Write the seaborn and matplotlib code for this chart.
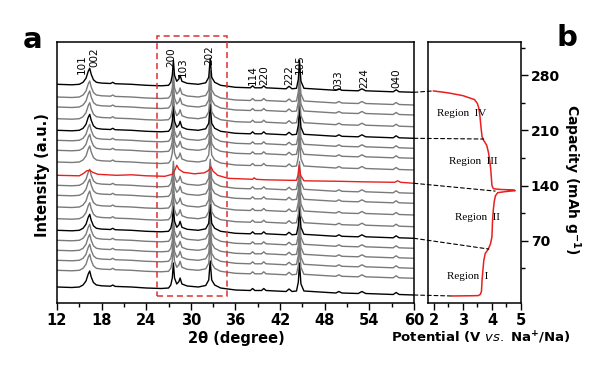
import pandas as pd
import seaborn as sns
import matplotlib.pyplot as plt
from matplotlib.patches import Rectangle, ConnectionPatch
from matplotlib.ticker import MultipleLocator

# XRD key points for the black / gray scans (2theta, intensity above the 12 deg level)
theta_gray = [12.0, 14.0, 15.0, 15.5, 15.9, 16.2, 16.4, 16.6, 16.9, 17.3, 18.0, 19.2, 19.5, 19.8,
              22.0, 24.0, 26.0, 27.0, 27.3, 27.5, 27.65, 27.8, 28.1, 28.4, 28.55, 28.8, 29.5,
              31.0, 32.0, 32.4, 32.6, 32.8, 33.2, 34.0, 36.0, 38.0, 38.3, 38.6, 39.5, 39.8, 40.1,
              42.8, 43.2, 43.6, 44.2, 44.45, 44.6, 44.8, 45.2, 49.5, 49.9, 50.3, 52.5, 53.0, 53.5,
              57.2, 57.6, 58.0, 60.0]
int_gray = [0, -0.5, 0, 2, 6, 13, 16, 10, 4.5, 2, 1.2, 0.8, 2, 0.6,
            0, -1, -1.5, -1, 2, 9, 24, 9, 3, 5.5, 9, 3, 1,
            0, 1.5, 7, 26, 7, 2, -1, -3, -3.5, -1.5, -3.5, -3.5, -1.5, -3.5,
            -4.5, -2, -4.5, -4, 5, 24, 3, -4, -6, -4.5, -6, -6.5, -4.5, -6.5,
            -7.5, -5.5, -7.5, -8]

# XRD key points for the red scan
theta_red = [12.0, 15.0, 15.6, 16.0, 16.4, 16.8, 17.5, 20.0, 22.0, 24.0, 26.5, 27.5, 27.9, 28.1,
             28.4, 29.0, 30.5, 31.8, 32.4, 32.7, 33.0, 33.6, 35.0, 38.3, 38.5, 38.8, 40.0, 43.3,
             44.2, 44.4, 44.55, 44.75, 45.2, 50.0, 53.0, 57.4, 57.8, 58.2, 60.0]
int_red = [0, -0.5, 2, 4.5, 5, 3, 1, 0, 0.5, -0.5, -1, 1, 6, 10,
           6, 3, 1.5, 2.5, 5, 8.5, 4, 0, -3, -4, -2.5, -4, -4.5, -5,
           -5, 0, 10, 0, -5.5, -6, -6.5, -7, -5.5, -7, -8]

# vertical offset of each scan, bottom to top
offsets = [16, 32.7, 42.7, 52.7, 62.7, 72.7, 84.3, 96, 107.7, 117.7, 127.7,
           141, 152.7, 162.7, 172.7, 184.3, 196, 206, 218.7]
kinds = ['k', 'g', 'g', 'g', 'g', 'k', 'g', 'g', 'g', 'g', 'r',
         'g', 'g', 'g', 'k', 'g', 'g', 'g', 'k']

# Miller indices above the top scan
hkl = ['101', '002', '200', '103', '202', '114', '220', '222', '105', '033', '224', '040']
hkl_theta = [15.4, 17.0, 27.4, 28.9, 32.5, 38.3, 39.8, 43.2, 44.7, 49.8, 53.3, 57.6]
hkl_y = [229, 236, 236, 226, 238, 218, 218, 218, 229, 213, 215, 215]

# charge curve: potential (V) vs capacity (mAh/g)
volt = [2.62, 3.3, 3.53, 3.6, 3.64, 3.66, 3.69, 3.72, 3.77, 3.85, 3.88, 3.95, 4.0, 4.02,
        4.05, 4.08, 4.12, 4.2, 4.5, 4.8, 4.75, 4.3, 4.05, 4.0, 3.98, 3.96, 3.93, 3.88,
        3.82, 3.72, 3.66, 3.62, 3.59, 3.55, 3.5, 3.4, 3.0, 2.5, 1.98]
cap = [0, 0.3, 0.5, 2, 6, 20, 33, 45, 54, 58, 60, 66, 75, 95,
       110, 120, 127, 131, 132.5, 133.5, 134.5, 135, 136, 140, 150, 160, 170, 182,
       191, 197, 202, 215, 227, 238, 244, 249, 254, 257.5, 260]

# scans linked to points on the curve
link_scan = [0, 5, 10, 14, 18]
link_volt = [2.62, 3.89, 4.11, 3.71, 1.98]
link_cap = [0, 59.5, 133, 199, 260]

regions = ['Region  I', 'Region  II', 'Region  III', 'Region  IV']
region_volt = [3.15, 3.5, 3.35, 2.95]
region_cap = [25, 100, 170, 231]

sns.set_style('ticks')
plt.rcParams['font.family'] = ['DejaVu Sans']
plt.rcParams['text.color'] = 'black'
plt.rcParams['xtick.color'] = 'black'
plt.rcParams['ytick.color'] = 'black'
plt.rcParams['xtick.direction'] = 'out'
plt.rcParams['ytick.direction'] = 'out'

rows = []
for i, (off, k) in enumerate(zip(offsets, kinds)):
    th, it = (theta_red, int_red) if k == 'r' else (theta_gray, int_gray)
    for t, v in zip(th, it):
        rows.append({'theta': t, 'intensity': off + v, 'scan': i})
df = pd.DataFrame(rows)
color_map = {'k': '#000000', 'g': '#7a7a7a', 'r': '#e8201e'}
palette = [color_map[k] for k in kinds]

fig = plt.figure(figsize=(6, 3.66), dpi=100)
ax1 = fig.add_axes([57 / 600, 63 / 366, 357 / 600, 261 / 366])
ax2 = fig.add_axes([428 / 600, 63 / 366, 93 / 600, 261 / 366])

sns.lineplot(data=df, x='theta', y='intensity', hue='scan', palette=palette,
             estimator=None, sort=False, legend=False, linewidth=1.0, ax=ax1)
ax1.set_xlim(12, 60)
ax1.set_ylim(0, 261)
ax1.set_xticks(range(12, 61, 6))
ax1.xaxis.set_minor_locator(MultipleLocator(3))
ax1.set_yticks([])
ax1.set_xlabel('')
ax1.set_ylabel('')
ax1.tick_params(axis='x', which='major', length=5, width=1, labelsize=10.5, pad=2)
ax1.tick_params(axis='x', which='minor', length=3, width=1)

for lab, t, y in zip(hkl, hkl_theta, hkl_y):
    ax1.text(t, y, lab, rotation=90, ha='center', va='bottom', fontsize=7.5)

ax1.add_patch(Rectangle((25.4, 7), 34.8 - 25.4, 260, fill=False, edgecolor='#e03030',
                        linestyle=(0, (4, 2.5)), linewidth=1.1, clip_on=False, zorder=5))

sns.lineplot(x=volt, y=cap, sort=False, estimator=None, color='#e8201e', linewidth=1.1, ax=ax2)
ax2.set_xlim(1.8, 5.0)
ax2.set_ylim(-8.9, 322)
ax2.set_xticks([2, 3, 4, 5])
ax2.xaxis.set_minor_locator(MultipleLocator(0.5))
ax2.set_yticks([70, 140, 210, 280])
ax2.set_yticks([35, 105, 175, 245, 315], minor=True)
ax2.yaxis.tick_right()
ax2.tick_params(axis='x', which='major', length=5, width=1, labelsize=10.5, pad=2)
ax2.tick_params(axis='y', which='major', length=5, width=1, labelsize=10, pad=2)
ax2.tick_params(axis='both', which='minor', length=3, width=1)

for ax in (ax1, ax2):
    for lbl in ax.get_xticklabels() + ax.get_yticklabels():
        lbl.set_fontweight('bold')
    for s in ax.spines.values():
        s.set_linewidth(1.1)
        s.set_color('black')

for lab, v, c in zip(regions, region_volt, region_cap):
    ax2.text(v, c, lab, ha='center', va='center', fontsize=8, family='Liberation Serif')

for i, v, c in zip(link_scan, link_volt, link_cap):
    y_end = offsets[i] + (int_red[-1] if kinds[i] == 'r' else int_gray[-1])
    con = ConnectionPatch(xyA=(60, y_end), coordsA=ax1.transData,
                          xyB=(v, c), coordsB=ax2.transData,
                          color='black', linewidth=0.8, linestyle=(0, (3.5, 2.5)))
    fig.add_artist(con)

fig.text(42 / 600, 1 - 175 / 366, 'Intensity (a.u.)', rotation=90, ha='center', va='center',
         fontsize=10.5, fontweight='bold')
fig.text(236 / 600, 1 - 338 / 366, '2\u03b8 (degree)', ha='center', va='center',
         fontsize=10.5, fontweight='bold')
fig.text(481 / 600, 1 - 338 / 366, r'Potential (V $\mathbf{\mathit{vs.}}$ Na$^{\mathbf{+}}$/Na)',
         ha='center', va='center', fontsize=9.5, fontweight='bold')
fig.text(572 / 600, 1 - 180 / 366, r'Capacity (mAh g$^{\mathbf{-1}}$)', rotation=270,
         ha='center', va='center', fontsize=10, fontweight='bold')
fig.text(33 / 600, 1 - 40 / 366, 'a', ha='center', va='center', fontsize=21, fontweight='bold')
fig.text(567 / 600, 1 - 38 / 366, 'b', ha='center', va='center', fontsize=21, fontweight='bold')

fig.savefig('out.png', dpi=100)
